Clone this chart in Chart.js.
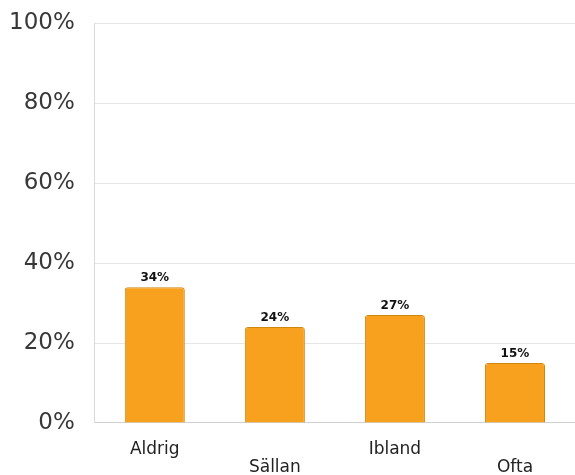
<!DOCTYPE html>
<html>
<head>
<meta charset="utf-8">
<script src="https://cdn.jsdelivr.net/npm/chart.js@4/dist/chart.umd.min.js"></script>
<style>
  html, body { margin: 0; padding: 0; background: #fff; }
  #wrap { width: 575px; height: 475px; }
</style>
</head>
<body>
<div id="wrap"><canvas id="chart" width="575" height="475"></canvas></div>
<script>
// data
var categories = ['Aldrig', 'Sällan', 'Ibland', 'Ofta'];
var shares = [34, 24, 27, 15]; // percent
var yTicks = [0, 20, 40, 60, 80, 100];

// staggered x labels: odd ones drop to a second row
var xLabels = categories.map(function(c, i){
  return i % 2 == 0 ? [c, ''] : ['', c];
});

// draws the value over each bar
var valueLabels = {
  id: 'valueLabels',
  afterDatasetsDraw: function(chart){
    var ctx = chart.ctx;
    var meta = chart.getDatasetMeta(0);
    ctx.save();
    ctx.font = 'bold 12px "DejaVu Sans", sans-serif';
    ctx.fillStyle = '#111';
    ctx.textAlign = 'center';
    ctx.textBaseline = 'alphabetic';
    meta.data.forEach(function(bar, i){
      ctx.fillText(shares[i] + '%', bar.x, bar.y - 6);
    });
    ctx.restore();
  }
};

new Chart(document.getElementById('chart'), {
  type: 'bar',
  data: {
    labels: xLabels,
    datasets: [{
      data: shares,
      backgroundColor: '#F7A11F',
      borderColor: '#D0860C',
      borderWidth: 1,
      borderRadius: 3,
      borderSkipped: 'bottom',
      categoryPercentage: 0.5,
      barPercentage: 1
    }]
  },
  options: {
    responsive: false,
    animation: false,
    // negative padding: chart.js counts tick padding on both sides
    layout: { padding: { left: -11, right: 0, top: 0, bottom: -20 } },
    plugins: {
      legend: { display: false },
      tooltip: { enabled: false }
    },
    scales: {
      x: {
        grid: { display: false, drawTicks: false },
        border: { display: true, color: '#d0d0d0' },
        ticks: {
          color: '#222',
          padding: 18,
          maxRotation: 0,
          autoSkip: false,
          font: { family: '"DejaVu Sans", sans-serif', size: 17, lineHeight: 1.06 }
        }
      },
      y: {
        min: 0,
        max: 100,
        afterBuildTicks: function(axis){
          axis.ticks = yTicks.map(function(v){ return { value: v }; });
        },
        grid: { color: '#e6e6e6', drawTicks: false },
        border: { display: true, color: '#d9d9d9' },
        ticks: {
          color: '#383838',
          padding: 20,
          callback: function(v){ return v + '%'; },
          font: { family: '"DejaVu Sans", sans-serif', size: 23, lineHeight: 0.3 }
        }
      }
    }
  },
  plugins: [valueLabels]
});
</script>
</body>
</html>
